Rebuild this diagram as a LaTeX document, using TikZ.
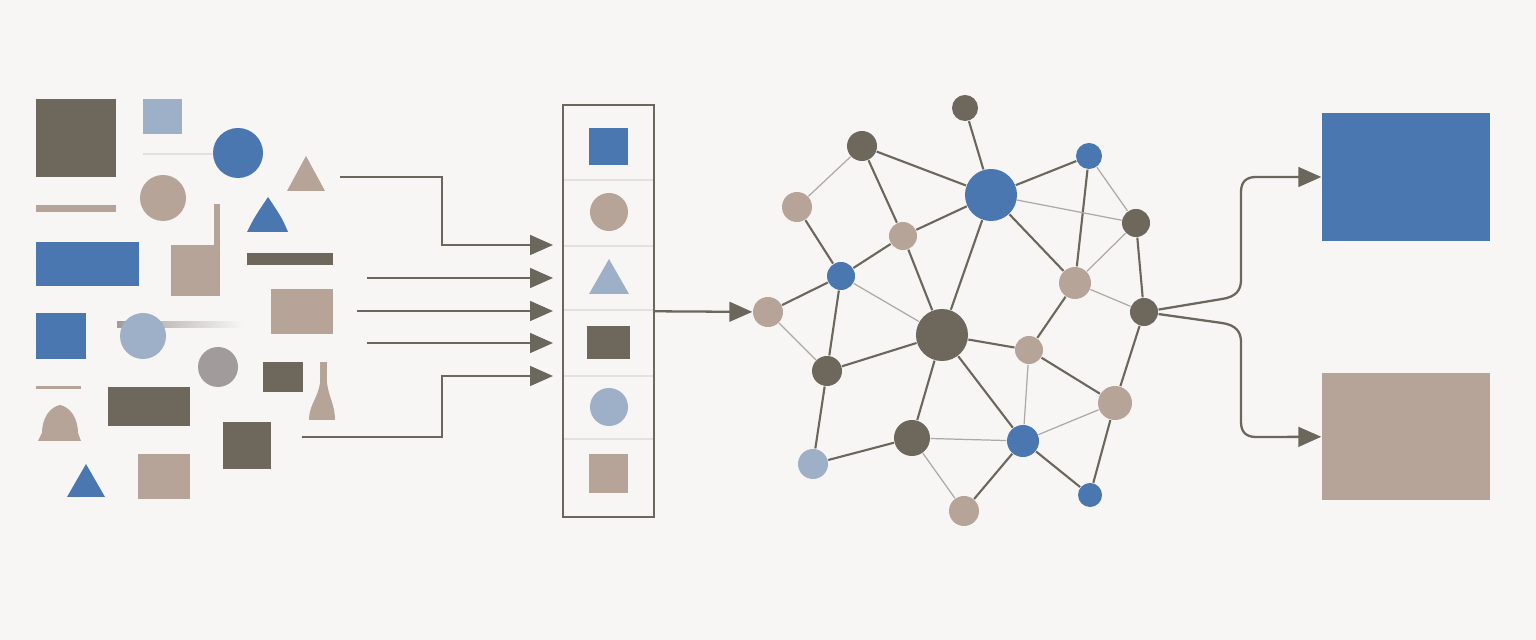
\documentclass[tikz,border=0pt]{standalone}
\usepackage{tikz}
\usetikzlibrary{arrows.meta}

\definecolor{bgc}{HTML}{F7F6F4}
\definecolor{dkc}{HTML}{6D675C}
\definecolor{blc}{HTML}{4A77B0}
\definecolor{tnc}{HTML}{B6A498}
\definecolor{lbc}{HTML}{9EB0C8}
\definecolor{gyc}{HTML}{A19C9B}
\definecolor{lnc}{HTML}{6B675C}
\definecolor{wkc}{HTML}{ADA9A5}
\definecolor{rlc}{HTML}{E3E1DE}

\tikzset{
  net/.style={circle,inner sep=0pt,minimum size=#1},
  item/.style={rectangle,inner sep=0pt},
  link/.style={draw=lnc,line width=0.6pt},
  weak/.style={draw=wkc,line width=0.35pt},
  conn/.style={draw=lnc,line width=0.65pt,-{Triangle[length=6.5pt,width=5.6pt]}}
}

\begin{document}
\begin{tikzpicture}[x=0.01cm,y=-0.01cm]

\fill[bgc] (0,0) rectangle (1536,640);

\fill[dkc] (36,99) rectangle (116,177);
\fill[lbc] (143,99) rectangle (182,134);
\draw[rlc,line width=0.6pt] (143,154) -- (212,154);
\fill[blc] (238,153) circle (25);
\fill[tnc] (287,191) -- (306,156) -- (325,191) -- cycle;
\fill[tnc] (36,205) rectangle (116,212);
\fill[tnc] (163,198) circle (23);
\fill[blc] (247,232) .. controls (254,218) .. (268,197) .. controls (282,218) .. (288,232) -- cycle;
\fill[blc] (36,242) rectangle (139,286);
\fill[tnc] (171,245) rectangle (220,296);
\fill[tnc] (214,204) rectangle (220,246);
\fill[dkc] (247,253) rectangle (333,265);
\fill[tnc] (271,289) rectangle (333,334);
\fill[blc] (36,313) rectangle (86,359);
\shade[left color=gyc,right color=bgc] (117,322) rectangle (242,328);
\fill[lbc] (143,336) circle (23);
\fill[gyc] (218,367) circle (20);
\fill[dkc] (263,362) rectangle (303,392);
\fill[tnc] (36,386) rectangle (81,389);
\fill[tnc] (38,441) -- (42,433) .. controls (42,418) and (50,407) .. (60,405) .. controls (70,407) and (78,418) .. (78,433) -- (81,441) -- cycle;
\fill[dkc] (108,387) rectangle (190,426);
\fill[tnc] (320,362) rectangle (327,385);
\fill[tnc] (320,383) -- (327,383) .. controls (329,398) and (335,405) .. (335,420) -- (309,420) .. controls (309,405) and (318,398) .. (320,383) -- cycle;
\fill[dkc] (223,422) rectangle (271,469);
\fill[blc] (67,497) -- (86,464) -- (105,497) -- cycle;
\fill[tnc] (138,454) rectangle (190,499);

\node[item,draw=lnc,line width=0.6pt,minimum width=9.1mm,minimum height=41.2mm] (stack) at (608.5,311) {};
\foreach \y in {180,246,310,376,439}
  \draw[rlc,line width=0.5pt] (564,\y) -- (653,\y);

\node[item,fill=blc,minimum width=3.9mm,minimum height=3.7mm] (cellA) at (608.5,146.5) {};
\node[net=3.8mm,fill=tnc] (cellB) at (609,212) {};
\fill[lbc] (589,294) -- (609,259) -- (629,294) -- cycle;
\node[item,fill=dkc,minimum width=4.3mm,minimum height=3.3mm] (cellD) at (608.5,342.5) {};
\node[net=3.8mm,fill=lbc] (cellE) at (609,407) {};
\node[item,fill=tnc,minimum width=3.9mm,minimum height=3.9mm] (cellF) at (608.5,473.5) {};

\coordinate (s1) at (340,177);
\coordinate (s2) at (367,278);
\coordinate (s3) at (357,311);
\coordinate (s4) at (367,343);
\coordinate (s5) at (302,437);
\coordinate (t1) at (553,245);
\coordinate (t2) at (553,278);
\coordinate (t3) at (553,311);
\coordinate (t4) at (553,343);
\coordinate (t5) at (553,376);

\draw[conn] (s1) -- (442,177) |- (t1);
\draw[conn] (s2) -- (t2);
\draw[conn] (s3) -- (t3);
\draw[conn] (s4) -- (t4);
\draw[conn] (s5) -- (442,437) |- (t5);

\node[net=2.6mm,fill=dkc] (n1) at (965,108) {};
\node[net=3.0mm,fill=dkc] (n2) at (862,146) {};
\node[net=5.2mm,fill=blc] (n3) at (991,195) {};
\node[net=2.6mm,fill=blc] (n4) at (1089,156) {};
\node[net=3.0mm,fill=tnc] (n5) at (797,207) {};
\node[net=2.8mm,fill=tnc] (n6) at (903,236) {};
\node[net=2.8mm,fill=dkc] (n7) at (1136,223) {};
\node[net=2.8mm,fill=blc] (n8) at (841,276) {};
\node[net=3.2mm,fill=tnc] (n9) at (1075,283) {};
\node[net=3.0mm,fill=tnc] (n10) at (768,312) {};
\node[net=5.2mm,fill=dkc] (n11) at (942,335) {};
\node[net=2.8mm,fill=dkc] (n12) at (1144,312) {};
\node[net=2.8mm,fill=tnc] (n13) at (1029,350) {};
\node[net=3.0mm,fill=dkc] (n14) at (827,371) {};
\node[net=3.4mm,fill=tnc] (n15) at (1115,403) {};
\node[net=3.6mm,fill=dkc] (n16) at (912,438) {};
\node[net=3.2mm,fill=blc] (n17) at (1023,441) {};
\node[net=3.0mm,fill=lbc] (n18) at (813,464) {};
\node[net=3.0mm,fill=tnc] (n19) at (964,511) {};
\node[net=2.4mm,fill=blc] (n20) at (1090,495) {};

\foreach \from/\to in {n1/n3, n2/n3, n2/n6, n3/n4, n3/n6, n3/n11, n3/n9, n4/n9, n7/n12, n5/n8, n6/n8, n6/n11, n8/n10, n8/n14, n11/n14, n11/n13, n11/n16, n11/n17, n9/n13, n13/n15, n12/n15, n15/n20, n14/n18, n16/n18, n17/n19, n17/n20}
	\draw[link] (\from) -- (\to);

\foreach \from/\to in {n2/n5, n3/n7, n4/n7, n7/n9, n9/n12, n8/n11, n10/n14, n13/n17, n15/n17, n16/n17, n16/n19}
	\draw[weak] (\from) -- (\to);

\draw[conn] (stack) -- (n10);

\node[item,fill=blc,minimum width=16.8mm,minimum height=12.8mm] (outA) at (1406,177) {};
\node[item,fill=tnc,minimum width=16.8mm,minimum height=12.7mm] (outB) at (1406,436.5) {};

\draw[conn] (n12) -- (1222,299) .. controls (1236,297) and (1241,290) .. (1241,280) -- (1241,192) .. controls (1241,182) and (1246,177) .. (1256,177) -- (outA);
\draw[conn] (n12) -- (1222,323) .. controls (1236,325) and (1241,332) .. (1241,342) -- (1241,422) .. controls (1241,432) and (1246,437) .. (1256,437) -- (outB);

\end{tikzpicture}
\end{document}
